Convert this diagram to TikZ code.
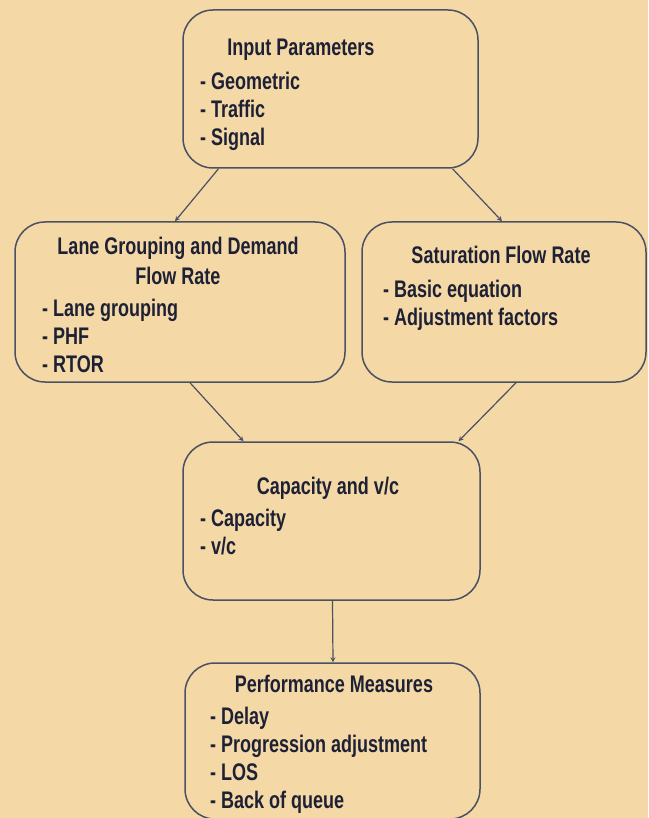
\documentclass[tikz,border=0pt]{standalone}
\usepackage{fontspec}
\usepackage{xcolor}
\newfontfamily\condfont{Liberation Sans}[FakeStretch=0.75]
\definecolor{paper}{HTML}{F4D8A6}
\definecolor{boxline}{HTML}{4A5162}
\definecolor{ink}{HTML}{1E2136}

\begin{document}
\begin{tikzpicture}[x=1pt,y=-1pt,
    box/.style={draw=boxline, line width=1.5pt, rounded corners=30pt, inner sep=0pt},
    ttl/.style={anchor=base, align=center, text=ink, inner sep=0pt, font=\condfont\bfseries\fontsize{24}{30}\selectfont},
    itm/.style={anchor=base west, align=left, text=ink, inner sep=0pt, font=\condfont\bfseries\fontsize{24}{28}\selectfont},
    arr/.style={draw=boxline, line width=1.2pt, -{stealth}}]
                \fill[paper] (0,0) rectangle (648,818);
                \useasboundingbox (0,0) rectangle (648,818);
                \foreach \n/\x/\y/\w/\h in {inp/330.5/89/295/158, lane/180/302/330/160, sat/504/302/284/160, cap/331.5/521/297/158, perf/332.5/741/295/156} {
                    \node[box, minimum width=\w pt, minimum height=\h pt] (\n) at (\x,\y) {};
                }

                % text: anchored at the baseline of the last line
                \node[ttl] (inpT) at (301,56) {Input Parameters};
                \node[itm] (inpL) at (200,146) {- Geometric\\- Traffic\\- Signal};
                \node[ttl] (laneT) at (178,284) {Lane Grouping and Demand\\Flow Rate};
                \node[itm] (laneL) at (42,372) {- Lane grouping\\- PHF\\- RTOR};
                \node[ttl] (satT) at (501,263) {Saturation Flow Rate};
                \node[itm] (satL) at (383,325) {- Basic equation\\- Adjustment factors};
                \node[ttl] (capT) at (328,494) {Capacity and v/c};
                \node[itm] (capL) at (200,554) {- Capacity\\- v/c};
                \node[ttl] (perfT) at (334,692) {Performance Measures};
                \node[itm] (perfL) at (210,808) {- Delay\\- Progression adjustment\\- LOS\\- Back of queue};

                \draw[arr] ([xshift=-112pt]inp.south) -- ([xshift=-5pt]lane.north);
                \draw[arr] ([xshift=122pt]inp.south) -- ([xshift=-2pt]sat.north);
                \draw[arr] ([xshift=10pt]lane.south) -- ([xshift=-88pt]cap.north);
                \draw[arr] ([xshift=12pt]sat.south) -- ([xshift=127pt]cap.north);
                \draw[arr] ([xshift=1pt]cap.south) -- ([xshift=0.5pt]perf.north);
            \end{tikzpicture}
\end{document}
